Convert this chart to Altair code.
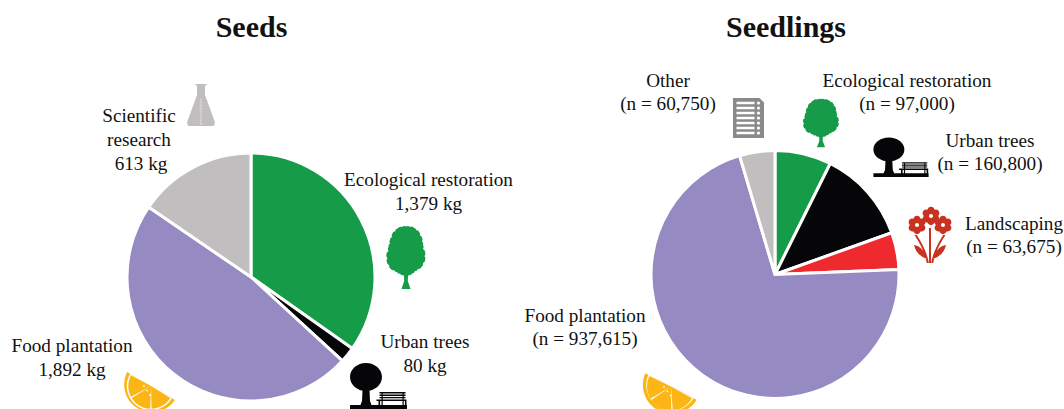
import math
import altair as alt
import pandas as pd

# Pie values
seed_categories = ["Ecological restoration", "Urban trees", "Food plantation", "Scientific research"]
seed_kg = [1379, 80, 1892, 613]
seed_colors = ["#169c49", "#060608", "#958bc2", "#c0bebf"]

seedling_categories = ["Ecological restoration", "Urban trees", "Landscaping", "Food plantation", "Other"]
seedling_counts = [97000, 160800, 63675, 937615, 60750]
seedling_colors = ["#169c49", "#060608", "#ee2a2e", "#958bc2", "#c0bebf"]

# Panel titles and slice captions: (centre x, baseline y, text)
titles = [(251.5, 37, "Seeds"), (786, 37, "Seedlings")]
captions = [
    (139, 122, "Scientific"), (139, 146, "research"), (141, 170, "613 kg"),
    (428.5, 186, "Ecological restoration"), (428.5, 210, "1,379 kg"),
    (425, 348, "Urban trees"), (425, 372, "80 kg"),
    (72, 352, "Food plantation"), (72, 376, "1,892 kg"),
    (668, 87, "Other"), (668, 110, "(n = 60,750)"),
    (907, 87, "Ecological restoration"), (907, 110, "(n = 97,000)"),
    (990, 147, "Urban trees"), (990, 170, "(n = 160,800)"),
    (1014, 230, "Landscaping"), (1014, 253, "(n = 63,675)"),
    (585, 322, "Food plantation"), (585, 345, "(n = 937,615)"),
]

ONE_ROW = pd.DataFrame({"k": [0]})


def pie(cats, vals, cols, cx, cy):
    df = pd.DataFrame({"cat": cats, "val": vals, "col": cols, "idx": range(len(cats))})
    return alt.Chart(df).mark_arc(outerRadius=124, stroke="white", strokeWidth=3).encode(
        theta=alt.Theta("val:Q", stack=True, scale=alt.Scale(domain=[0, sum(vals)], range=[0, 2 * math.pi])),
        order=alt.Order("idx:Q"),
        color=alt.Color("col:N", scale=None),
        x=alt.value(cx),
        y=alt.value(cy),
    )


def label(x, y, s, size=19.2, weight="normal"):
    return alt.Chart(pd.DataFrame({"s": [s]})).mark_text(
        font="Liberation Serif", fontSize=size, fontWeight=weight, color="#111111",
        align="center", baseline="alphabetic",
    ).encode(x=alt.value(x), y=alt.value(y), text="s:N")


def glyph(x, y, path, color):
    # Custom symbols scale by sqrt(size)/2, so size 4 keeps path units in pixels
    return alt.Chart(ONE_ROW).mark_point(
        shape=path, size=4, filled=True, fill=color, strokeWidth=0, opacity=1,
    ).encode(x=alt.value(x), y=alt.value(y))


def rect(x0, y0, x1, y1):
    return f"M{x0:.1f} {y0:.1f}L{x1:.1f} {y0:.1f}L{x1:.1f} {y1:.1f}L{x0:.1f} {y1:.1f}Z"


def ellipse(cx, cy, rx, ry):
    return (f"M{cx - rx:.1f} {cy:.1f}A{rx:.1f} {ry:.1f} 0 1 1 {cx + rx:.1f} {cy:.1f}"
            f"A{rx:.1f} {ry:.1f} 0 1 1 {cx - rx:.1f} {cy:.1f}Z")


def tree(sx, sy):
    # Leafy crown outline with a forked trunk; origin is the centre of the crown
    crown = [
        (-4, -24), (0, -24.5), (4, -24), (8, -23), (10.5, -20.5), (13, -19), (14, -15.5), (16, -13),
        (16, -9.5), (17, -6), (17, -2), (19, 1), (18.5, 5), (19, 9), (17, 12), (15.5, 16), (12, 18),
        (9, 20), (6, 22.5), (3, 24),
    ]
    trunk = [(2, 25), (1.8, 30), (4.5, 38), (-4.5, 38), (-1.8, 30), (-2, 25)]
    crown_left = [
        (-3, 24), (-6, 22.5), (-9, 21), (-12, 19), (-15, 18), (-17, 14), (-19, 11), (-18.5, 7),
        (-19.5, 3), (-17.5, 0), (-17.5, -4), (-16, -7.5), (-16, -11), (-14, -14), (-13.5, -17.5),
        (-11, -19.5), (-8.5, -22.5),
    ]

    def P(p):
        return f"{p[0] * sx:.1f} {p[1] * sy:.1f}"

    def scallop(points, start):
        d = ""
        prev = start
        for p in points:
            ctrl = ((prev[0] + p[0]) / 2 * 1.07, (prev[1] + p[1]) / 2 * 1.07)
            d += f"Q{P(ctrl)} {P(p)}"
            prev = p
        return d

    d = "M" + P(crown[0]) + scallop(crown[1:], crown[0])
    for p in trunk:
        d += "L" + P(p)
    d += "L" + P(crown_left[0]) + scallop(crown_left[1:], crown_left[0]) + scallop([crown[0]], crown_left[-1])
    return d + "Z"


def park(sx, sy):
    # Round tree, bench and ground bar; origin is the middle of the ground bar
    X = lambda v: v * sx
    Y = lambda v: v * sy
    p = [ellipse(X(-12.5), Y(-30), X(16), Y(14))]
    p.append(f"M{X(-16):.1f} {Y(-17):.1f}L{X(-9):.1f} {Y(-17):.1f}L{X(-8.5):.1f} {Y(-6):.1f}L{X(-7):.1f} {Y(-2):.1f}"
             f"L{X(-18):.1f} {Y(-2):.1f}L{X(-16.5):.1f} {Y(-6):.1f}Z")
    p.append(rect(X(-28.5), Y(-2), X(28.5), Y(2.5)))
    for y0, y1 in [(-15, -13.5), (-12.5, -11), (-10, -8.8)]:
        p.append(rect(X(1), Y(y0), X(27), Y(y1)))
    p.append(rect(X(-2), Y(-7.5), X(28), Y(-6)))
    for a, b in [(0, 1.6), (3, 4.2), (24, 25.2), (26.4, 28)]:
        p.append(rect(X(a), Y(-15 if a in (3, 24) else -7), X(b), Y(-2)))
    return "".join(p)


def flask_body():
    return ("M-5.5 -21L5.5 -21L5.5 -19.5L4 -19.5L4 -10L13.5 16Q15 21 11 21L-11 21Q-15 21 -13.5 16"
            "L-4 -10L-4 -19.5L-5.5 -19.5Z")


def flask_ticks():
    return "".join(rect(-1.5, y, 0.7, y + 0.6) for y in range(-6, 20, 3)) + rect(-0.3, -6, 0.3, 20)


def sheet():
    return "M-15.5 -20L11 -20L15.5 -15.5L15.5 20L-15.5 20Z"


def sheet_rows():
    rows = ""
    for y in [-15, -10, -5, 0, 5, 10, 15]:
        rows += rect(-12, y - 1.3, 6, y + 1.3)
        rows += ellipse(10, y, 1.6, 1.6)
    return rows


def bloom_petals():
    d = ""
    for i in range(6):
        a = math.pi / 6 + i * math.pi / 3
        d += ellipse(5.6 * math.cos(a), 5.6 * math.sin(a), 3.6, 3.6)
    d += ellipse(0, 0, 4.5, 4.5)
    return d


def stems():
    d = "M-1 -9L1 -9L1 26L-1 26Z"
    d += "M-15.5 -2L-13.2 -2Q-3 14 -1.2 26L-3.2 26Q-6 12 -15.5 -2Z"
    d += "M15.5 -2L13.2 -2Q3 14 1.2 26L3.2 26Q6 12 15.5 -2Z"
    d += "M-3 22Q-14 18 -16 8Q-7 9 -3 22Z"
    d += "M3 22Q14 18 16 8Q7 9 3 22Z"
    return d


def sector(r, a0, a1, base):
    x0, y0 = r * math.cos(base + a0), r * math.sin(base + a0)
    x1, y1 = r * math.cos(base + a1), r * math.sin(base + a1)
    return f"M0 0L{x0:.1f} {y0:.1f}A{r} {r} 0 0 1 {x1:.1f} {y1:.1f}Z"


def orange(x, y, radius, tilt):
    # Half slice: rind, white pith, then three segments with white gaps and a few seeds
    base = math.radians(tilt)
    gap = math.radians(1.8)
    third = math.pi / 3
    seeds = "".join(
        ellipse(r * math.cos(base + a), r * math.sin(base + a), 0.9, 0.9)
        for r, a in [(7, math.radians(150)), (6, math.radians(100)), (9, math.radians(65))]
    )
    return [
        glyph(x, y, sector(radius, 0, math.pi, base), "#fbb616"),
        glyph(x, y, sector(radius - 3.5, 0, math.pi, base), "white"),
        glyph(x, y, "".join(sector(radius - 5, i * third + gap, (i + 1) * third - gap, base) for i in range(3)),
              "#fbb616"),
        glyph(x, y, seeds, "white"),
    ]


GREEN, RED, FLASK, DOC = "#169c49", "#c8321f", "#c0bebf", "#8a8a8a"
icons = [
    glyph(406, 251, tree(1.0, 1.0), GREEN),
    glyph(821, 118, tree(0.92, 0.77), GREEN),
    glyph(378.5, 407, park(1.0, 1.0), "#060608"),
    glyph(901, 175, park(0.97, 0.85), "#060608"),
    glyph(201, 105, flask_body(), FLASK),
    glyph(201, 105, flask_ticks(), "#e6e6e6"),
    glyph(748.5, 118, sheet(), DOC),
    glyph(748.5, 118, sheet_rows(), "white"),
    glyph(930, 237, stems(), RED),
    glyph(931, 216, bloom_petals(), RED),
    glyph(917, 225, bloom_petals(), RED),
    glyph(943, 225, bloom_petals(), RED),
    glyph(931, 216, ellipse(0, 0, 2, 2), "white"),
    glyph(917, 225, ellipse(0, 0, 2, 2), "white"),
    glyph(943, 225, ellipse(0, 0, 2, 2), "white"),
] + orange(151, 386, 27.7, 30.2) + orange(671, 386.5, 29, 27.4)

pies = alt.layer(
    pie(seed_categories, seed_kg, seed_colors, 251, 277),
    pie(seedling_categories, seedling_counts, seedling_colors, 775, 274.5),
).resolve_scale(theta="independent", color="independent")

texts = [label(x, y, s, size=30, weight="bold") for x, y, s in titles]
texts += [label(x, y, s) for x, y, s in captions]

chart = alt.layer(pies, *icons, *texts).properties(
    width=1064, height=409, padding=0,
    autosize=alt.AutoSizeParams(type="none"),
    background="white",
).configure_view(stroke=None)

chart.save("out.html", embed_options={"renderer": "svg", "actions": False})
